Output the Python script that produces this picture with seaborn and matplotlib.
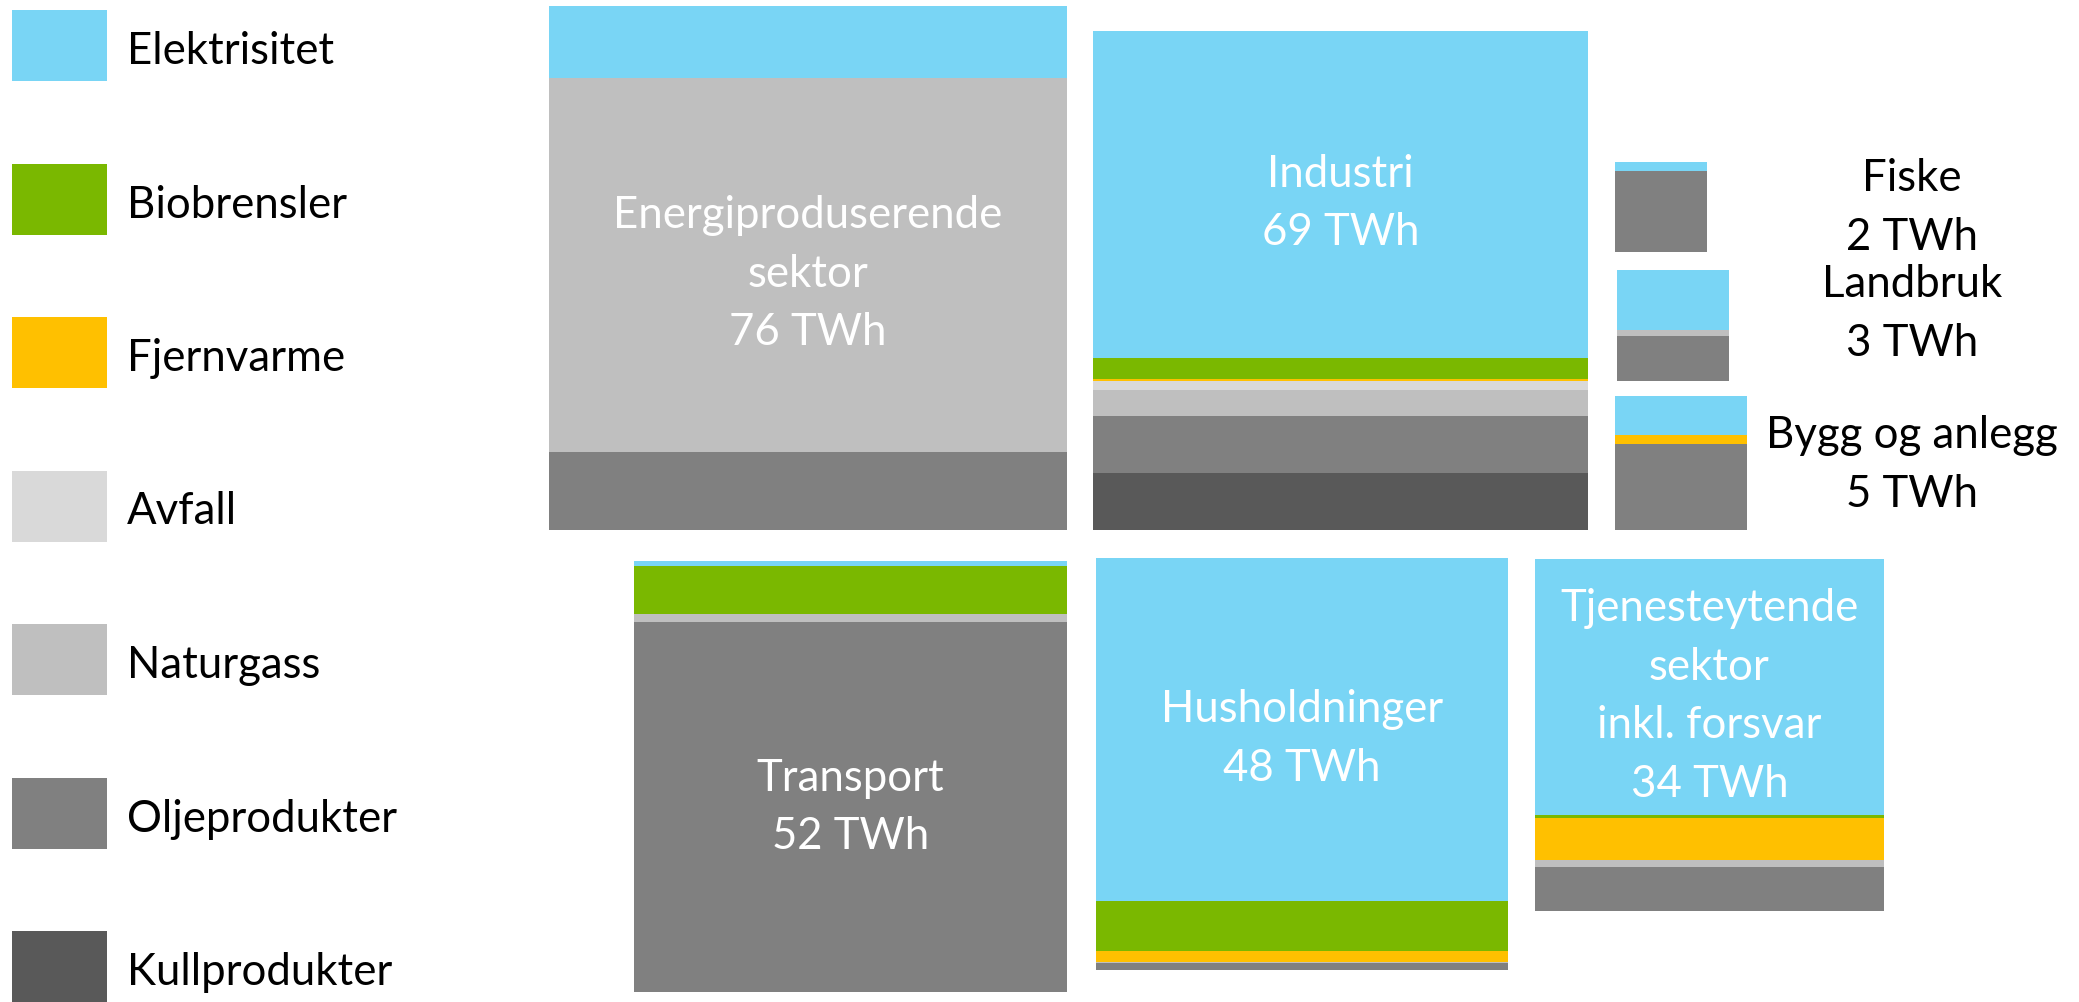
import numpy as np
import matplotlib
matplotlib.use("Agg")
import matplotlib.pyplot as plt
from matplotlib.patches import Rectangle
import seaborn as sns

# Energy carriers, top of each block first
carriers = ["Elektrisitet", "Biobrensler", "Fjernvarme", "Avfall",
            "Naturgass", "Oljeprodukter", "Kullprodukter"]
carrier_colors = ["#79D5F5", "#7AB800", "#FFC000", "#D9D9D9",
                  "#BFBFBF", "#808080", "#595959"]

sectors = ["Energiproduserende\nsektor", "Industri", "Fiske", "Landbruk",
           "Bygg og anlegg", "Transport", "Husholdninger",
           "Tjenesteytende\nsektor\ninkl. forsvar"]

# Final energy use in TWh per carrier, in the order of `sectors`
elektrisitet = [10.47, 45.47, 0.24, 1.87, 1.44, 0.61, 39.72, 25.10]
biobrensler = [0.0, 3.02, 0.0, 0.0, 0.0, 5.85, 5.79, 0.26]
fjernvarme = [0.0, 0.19, 0.0, 0.03, 0.31, 0.0, 1.24, 4.15]
avfall = [0.0, 1.33, 0.0, 0.0, 0.0, 0.0, 0.0, 0.0]
naturgass = [54.33, 3.63, 0.0, 0.16, 0.0, 0.94, 0.12, 0.68]
oljeprodukter = [11.40, 7.87, 2.10, 1.43, 3.19, 45.09, 0.83, 4.30]
kullprodukter = [0.0, 7.94, 0.0, 0.0, 0.0, 0.0, 0.0, 0.0]

values = np.array([elektrisitet, biobrensler, fjernvarme, avfall,
                   naturgass, oljeprodukter, kullprodukter])
totals = values.sum(axis=0)

# Block layout (pixel canvas): block area is proportional to TWh
AREA_PER_TWH = 3560.0
box_left = np.array([549, 1093, 1615, 1617, 1615, 634, 1096, 1535], float)
box_anchor = np.array([530, 530, 252, 381, 530, 561, 558, 559], float)
anchored_bottom = np.array([True, True, True, True, True, False, False, False])
box_aspect = np.array([1.012, 1.008, 0.975, 0.99, 1.015, 0.995, 1.0, 1.01])
label_outside = [False, False, True, True, True, False, False, False]
label_dy = [9.5, 9.5, 0, 0, 0, 0.5, 9.5, 9.5]
outside_label_x = 1912
outside_label_y = {2: 208, 3: 314, 4: 465}

area = totals * AREA_PER_TWH
box_w = np.sqrt(area / box_aspect)
box_h = np.sqrt(area * box_aspect)
box_top = np.where(anchored_bottom, box_anchor - box_h, box_anchor)

W, H = 2079, 1002
sns.set_theme(style="white")
plt.rcParams["font.family"] = ["Lato", "DejaVu Sans"]
palette = sns.color_palette(carrier_colors)

fig = plt.figure(figsize=(W / 100, H / 100), dpi=100)
ax = fig.add_axes([0, 0, 1, 1])
ax.set_xlim(0, W)
ax.set_ylim(H, 0)
ax.axis("off")

# Stacked layers, drawn from the top of each block downwards
layer_h = values / totals * box_h
layer_top = box_top + np.vstack([np.zeros(len(sectors)),
                                 np.cumsum(layer_h, axis=0)[:-1]])
for i, name in enumerate(carriers):
    ax.bar(box_left, layer_h[i], width=box_w, bottom=layer_top[i],
           align="edge", color=palette[i], linewidth=0, antialiased=False,
           label=name)

FS = 31.5
LS = 1.53
for j, name in enumerate(sectors):
    text = f"{name}\n{int(round(totals[j]))} TWh"
    if label_outside[j]:
        ax.text(outside_label_x, outside_label_y[j], text, color="black",
                fontsize=FS, ha="center", va="center", linespacing=LS)
    else:
        k = int(np.argmax(values[:, j]))
        cy = layer_top[k, j] + layer_h[k, j] / 2 + label_dy[j]
        cx = box_left[j] + box_w[j] / 2
        ax.text(cx, cy, text, color="white", fontsize=FS,
                ha="center", va="center", linespacing=LS)

# Legend column on the left
for i, name in enumerate(carriers):
    y0 = 10 + i * 153.5
    ax.add_patch(Rectangle((12, y0), 95, 71, facecolor=palette[i],
                           edgecolor="none"))
    ax.text(127, y0 + 54, name, color="black", fontsize=FS,
            ha="left", va="baseline")

fig.savefig("out.png", dpi=100)
